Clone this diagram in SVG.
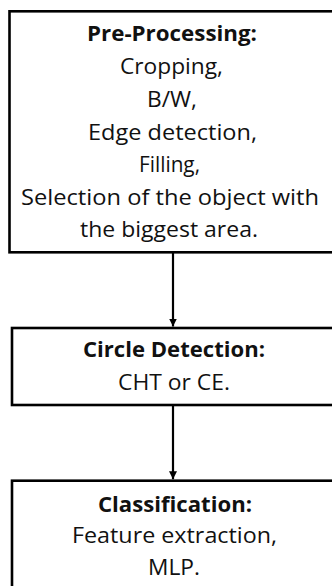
<svg xmlns="http://www.w3.org/2000/svg" width="332" height="586" viewBox="0 0 332 586">
<style>
.box{fill:#fff;stroke:#000;stroke-width:2.6}
.t{font-family:"Open Sans","Liberation Sans",sans-serif;font-size:21.5px;fill:#111;text-anchor:middle}
.b{font-weight:bold}
.conn{stroke:#000;stroke-width:2.2;fill:none}
</style>
<defs>
<marker id="ah" markerWidth="10" markerHeight="10" refX="8" refY="4" orient="auto" markerUnits="userSpaceOnUse">
<path d="M0,0 L8,4 L0,8 Z" fill="#000"/>
</marker>
</defs>
<rect width="332" height="586" fill="#fff"/>
<g id="node-preprocessing">
<rect class="box" x="9.5" y="11.3" width="330" height="241"/>
<text class="t b" x="172" y="41" textLength="170" lengthAdjust="spacingAndGlyphs">Pre-Processing:</text>
<text class="t" x="171.5" y="74" textLength="103" lengthAdjust="spacingAndGlyphs">Cropping,</text>
<text class="t" x="172" y="107" textLength="50" lengthAdjust="spacingAndGlyphs">B/W,</text>
<text class="t" x="172.5" y="140" textLength="169" lengthAdjust="spacingAndGlyphs">Edge detection,</text>
<text class="t" x="169.5" y="172" textLength="61" lengthAdjust="spacingAndGlyphs">Filling,</text>
<text class="t" x="170" y="204.5" textLength="298" lengthAdjust="spacingAndGlyphs">Selection of the object with</text>
<text class="t" x="169" y="237" textLength="178" lengthAdjust="spacingAndGlyphs">the biggest area.</text>
</g>
<g id="node-circle">
<rect class="box" x="12" y="328" width="330" height="77"/>
<text class="t b" x="174" y="357" textLength="182" lengthAdjust="spacingAndGlyphs">Circle Detection:</text>
<text class="t" x="174" y="390" textLength="112" lengthAdjust="spacingAndGlyphs">CHT or CE.</text>
</g>
<g id="node-classification">
<rect class="box" x="12" y="480.7" width="330" height="130"/>
<text class="t b" x="175" y="512" textLength="154" lengthAdjust="spacingAndGlyphs">Classification:</text>
<text class="t" x="174.5" y="543" textLength="205" lengthAdjust="spacingAndGlyphs">Feature extraction,</text>
<text class="t" x="174" y="575" textLength="52" lengthAdjust="spacingAndGlyphs">MLP.</text>
</g>
<g id="connectors">
<line class="conn" x1="173" y1="253" x2="173" y2="326.5" marker-end="url(#ah)"/>
<line class="conn" x1="173" y1="406" x2="173" y2="479.2" marker-end="url(#ah)"/>
</g>
</svg>
